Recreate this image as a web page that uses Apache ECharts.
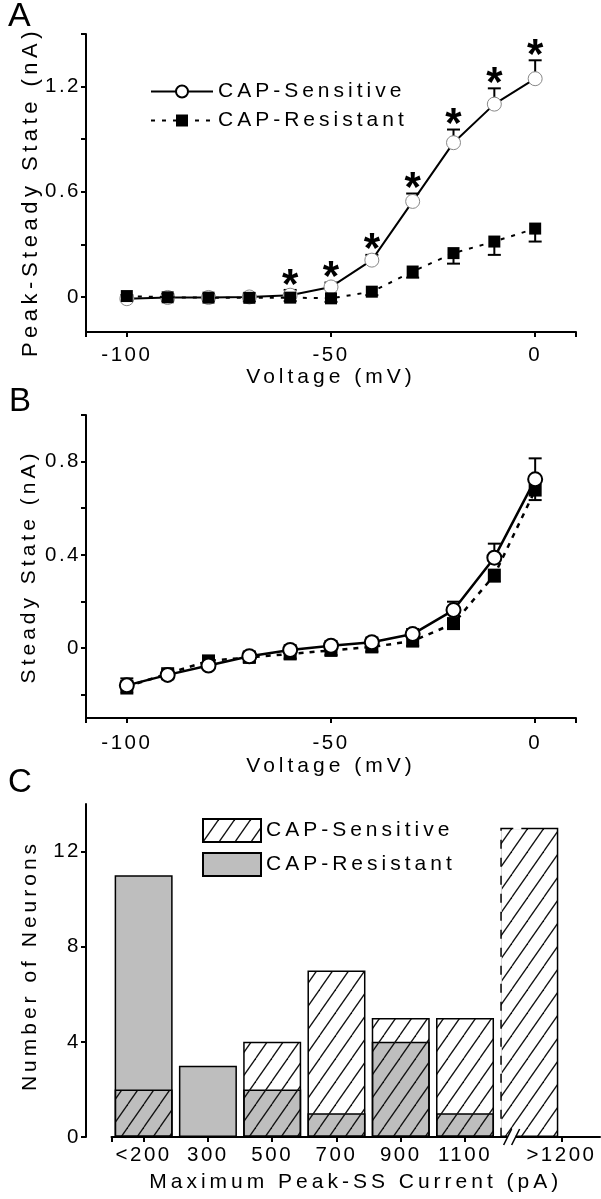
<!DOCTYPE html>
<html><head><meta charset="utf-8">
<script src="https://cdn.jsdelivr.net/npm/echarts@6/dist/echarts.min.js"></script>
<style>html,body{margin:0;padding:0;background:#fff}#chart{width:601px;height:1199px}</style>
</head><body><div id="chart"></div>
<script>
// ---------- data ----------
const voltages = [-100, -90, -80, -70, -60, -50, -40, -30, -20, -10, 0];
// Panel A: Peak - Steady State (nA)
const peakSens    = [-0.01, -0.003, -0.003, 0.0, 0.01, 0.057, 0.21, 0.545, 0.88, 1.10, 1.245];
const peakSensErr = [0.02, 0.02, 0.02, 0.02, 0.03, 0.025, 0.03, 0.045, 0.075, 0.09, 0.105];
const peakRes     = [0.005, -0.002, -0.004, -0.005, -0.004, -0.008, 0.03, 0.145, 0.25, 0.316, 0.39];
const peakResErr  = [0.02, 0.02, 0.02, 0.02, 0.02, 0.02, 0.02, 0.035, 0.06, 0.076, 0.074];
const peakSig     = [0, 0, 0, 0, 1, 1, 1, 1, 1, 1, 1];
// Panel B: Steady State (nA)
const ssSens    = [-0.16, -0.115, -0.075, -0.035, -0.008, 0.01, 0.025, 0.06, 0.163, 0.388, 0.724];
const ssSensErr = [0.03, 0.02, 0.02, 0.02, 0.02, 0.02, 0.02, 0.022, 0.036, 0.06, 0.09];
const ssRes     = [-0.165, -0.11, -0.055, -0.04, -0.025, -0.01, 0.005, 0.03, 0.105, 0.313, 0.678];
const ssResErr  = [0.03, 0.02, 0.02, 0.02, 0.02, 0.02, 0.02, 0.02, 0.02, 0.028, 0.043];
// Panel C: histogram
const binLabels  = ['<200', '300', '500', '700', '900', '1100', '>1200'];
const binCenters = [100, 300, 500, 700, 900, 1100, 1300];
const binLabelAt = [100, 300, 500, 700, 900, 1100, 1400];
const countSens  = [2, 0, 4, 7, 5, 5, 13];
const countRes   = [11, 3, 2, 1, 4, 1, 0];
const axisBreakAt = 1245;
// ticks
const voltTicks  = [-110, -100, -50, 0, 10];
const voltLabels = [-100, -50, 0];
const peakTicks  = [0, 0.3, 0.6, 0.9, 1.2, 1.5];
const peakLabels = [0, 0.6, 1.2];
const ssTicks    = [-0.2, 0, 0.2, 0.4, 0.6, 0.8, 1.0];
const ssLabels   = [0, 0.4, 0.8];
const countTicks = [0, 4, 8, 12];
const binTicks   = [0, 100, 300, 500, 700, 900, 1100, 1400];

// ---------- letter spacing (text in the reference is widely tracked) ----------
const SPACING = { '21': '4px', '22': '4.5px', '20.5': '2.5px' };
(function () {
  const proto = CanvasRenderingContext2D.prototype;
  const orig = proto.fillText;
  proto.fillText = function (t, x, y, w) {
    const m = /(\d+(?:\.\d+)?)px/.exec(this.font);
    const sp = m ? SPACING[m[1]] : null;
    if ('letterSpacing' in this) this.letterSpacing = sp || '0px';
    const r = (w === undefined) ? orig.call(this, t, x, y) : orig.call(this, t, x, y, w);
    if ('letterSpacing' in this) this.letterSpacing = '0px';
    return r;
  };
})();

const FONT = 'Liberation Sans';
const TICK = { fontSize: 20.5, color: '#000', fontFamily: FONT };
const NAME = { fontSize: 21, color: '#000', fontFamily: FONT };
const AXLINE = { show: true, onZero: false, lineStyle: { color: '#000', width: 2 } };
const BAR_W = 58;

function hatch() {
  const w = 16, h = 23;
  const c = document.createElement('canvas');
  c.width = w; c.height = h;
  const g = c.getContext('2d');
  g.strokeStyle = '#111'; g.lineWidth = 1.3;
  for (const x0 of [-w, 0, w]) {
    g.beginPath(); g.moveTo(x0, h); g.lineTo(x0 + w, 0); g.stroke();
  }
  return { image: c, repeat: 'repeat' };
}

function errBars(dir, cap) {
  return function (params, api) {
    const x = api.value(0), y = api.value(1), e = api.value(2);
    const p0 = api.coord([x, y]);
    const p1 = api.coord([x, y + dir * e]);
    return { type: 'group', children: [
      { type: 'line', shape: { x1: p0[0], y1: p0[1], x2: p1[0], y2: p1[1] }, style: { stroke: '#000', lineWidth: 2 } },
      { type: 'line', shape: { x1: p1[0] - cap, y1: p1[1], x2: p1[0] + cap, y2: p1[1] }, style: { stroke: '#000', lineWidth: 2 } }
    ]};
  };
}

function xVolt(grid, gap, lblMargin) {
  return {
    gridIndex: grid, type: 'value', min: -110, max: 10,
    axisLine: AXLINE,
    axisTick: { show: true, customValues: voltTicks, length: 5, lineStyle: { color: '#000', width: 2 } },
    axisLabel: Object.assign({ customValues: voltLabels, margin: lblMargin }, TICK),
    splitLine: { show: false },
    name: 'Voltage (mV)', nameLocation: 'middle', nameGap: gap, nameTextStyle: NAME
  };
}

const chart = echarts.init(document.getElementById('chart'), null, { renderer: 'canvas' });
const fmtName = n => n.split('|')[1];

chart.setOption({
  animation: false,
  backgroundColor: '#fff',
  textStyle: { fontFamily: FONT },
  grid: [
    { left: 86, top: 34, width: 490, height: 298 },
    { left: 86, top: 415, width: 490, height: 303 },
    { left: 111.5, top: 804, width: 488.5, height: 333 }
  ],
  xAxis: [
    xVolt(0, 34, 13),
    xVolt(1, 38, 15),
    {
      gridIndex: 2, type: 'value', min: 0, max: 1520,
      axisLine: AXLINE,
      axisTick: { show: true, customValues: binTicks, length: 5, lineStyle: { color: '#000', width: 2 } },
      axisLabel: Object.assign({ customValues: binLabelAt, margin: 8,
        formatter: v => binLabels[binLabelAt.indexOf(v)] }, TICK),
      splitLine: { show: false },
      name: 'Maximum Peak-SS Current (pA)', nameLocation: 'middle', nameGap: 35, nameTextStyle: NAME
    }
  ],
  yAxis: [
    {
      gridIndex: 0, type: 'value', min: -0.2, max: 1.5,
      axisLine: AXLINE,
      axisTick: { show: true, customValues: peakTicks, length: 5, lineStyle: { color: '#000', width: 2 } },
      axisLabel: Object.assign({ customValues: peakLabels, margin: 5 }, TICK),
      splitLine: { show: false },
      name: 'Peak-Steady State (nA)', nameLocation: 'middle', nameGap: 42,
      nameTextStyle: Object.assign({}, NAME, { fontSize: 22, padding: [0, 18, 0, 0] })
    },
    {
      gridIndex: 1, type: 'value', min: -0.3, max: 1.0,
      axisLine: AXLINE,
      axisTick: { show: true, customValues: ssTicks, length: 5, lineStyle: { color: '#000', width: 2 } },
      axisLabel: Object.assign({ customValues: ssLabels, margin: 5 }, TICK),
      splitLine: { show: false },
      name: 'Steady State (nA)', nameLocation: 'middle', nameGap: 46, nameTextStyle: NAME
    },
    {
      gridIndex: 2, type: 'value', min: 0, max: 14, offset: 25.5,
      axisLine: AXLINE,
      axisTick: { show: true, customValues: countTicks, length: 5, lineStyle: { color: '#000', width: 2 } },
      axisLabel: Object.assign({ customValues: countTicks, margin: 5 }, TICK),
      splitLine: { show: false },
      name: 'Number of Neurons', nameLocation: 'middle', nameGap: 45,
      nameTextStyle: Object.assign({ padding: [0, 0, 0, 10] }, NAME)
    }
  ],
  legend: [
    {
      left: 150, top: 81, orient: 'vertical', selectedMode: false, padding: 0,
      itemWidth: 62, itemHeight: 15, itemGap: 8,
      formatter: fmtName,
      textStyle: NAME,
      data: [
        { name: 'A|CAP-Sensitive', itemStyle: { color: '#fff', borderColor: '#000', borderWidth: 2 } },
        { name: 'A|CAP-Resistant' }
      ]
    },
    {
      left: 202, top: 818, orient: 'vertical', selectedMode: false, padding: 0,
      itemWidth: 58, itemHeight: 23, itemGap: 9, icon: 'rect',
      formatter: fmtName,
      textStyle: NAME,
      data: [{ name: 'C|CAP-Sensitive' }, { name: 'C|CAP-Resistant' }]
    }
  ],
  graphic: [
    { type: 'text', left: 8, top: 0, style: { text: 'A', font: '34px "Liberation Sans"', fill: '#000' } },
    { type: 'text', left: 9, top: 385, style: { text: 'B', font: '33px "Liberation Sans"', fill: '#000' } },
    { type: 'text', left: 8, top: 766, style: { text: 'C', font: '33px "Liberation Sans"', fill: '#000' } }
  ],
  series: [
    // ---- Panel A ----
    { type: 'custom', name: 'errA-s', xAxisIndex: 0, yAxisIndex: 0, z: 1,
      renderItem: errBars(1, 6.5), data: voltages.map((v, i) => [v, peakSens[i], peakSensErr[i]]) },
    { type: 'custom', name: 'errA-r', xAxisIndex: 0, yAxisIndex: 0, z: 1,
      renderItem: errBars(-1, 6.5), data: voltages.map((v, i) => [v, peakRes[i], peakResErr[i]]) },
    { type: 'line', name: 'A|CAP-Sensitive', xAxisIndex: 0, yAxisIndex: 0, z: 2,
      data: voltages.map((v, i) => [v, peakSens[i]]),
      symbol: 'circle', symbolSize: 14,
      itemStyle: { color: '#fff', borderColor: '#888', borderWidth: 1 },
      lineStyle: { color: '#000', width: 2 } },
    { type: 'line', name: 'A|CAP-Resistant', xAxisIndex: 0, yAxisIndex: 0, z: 3,
      data: voltages.map((v, i) => [v, peakRes[i]]),
      symbol: 'rect', symbolSize: 12,
      itemStyle: { color: '#000' },
      lineStyle: { color: '#000', width: 2, type: [4, 7] } },
    { type: 'custom', name: 'sigA', xAxisIndex: 0, yAxisIndex: 0, z: 4,
      renderItem: function (params, api) {
        const p = api.coord([api.value(0), api.value(1)]);
        return { type: 'text', style: { text: '*', x: p[0], y: p[1] - 4, fill: '#000',
          font: 'bold 42px "Liberation Sans"', textAlign: 'center', textVerticalAlign: 'middle' } };
      },
      data: voltages.map((v, i) => [v, peakSens[i] + peakSensErr[i]]).filter((d, i) => peakSig[i]) },
    // ---- Panel B ----
    { type: 'custom', name: 'errB-s', xAxisIndex: 1, yAxisIndex: 1, z: 1,
      renderItem: errBars(1, 6.5), data: voltages.map((v, i) => [v, ssSens[i], ssSensErr[i]]) },
    { type: 'custom', name: 'errB-r', xAxisIndex: 1, yAxisIndex: 1, z: 1,
      renderItem: errBars(-1, 6.5), data: voltages.map((v, i) => [v, ssRes[i], ssResErr[i]]) },
    { type: 'line', name: 'B|CAP-Resistant', xAxisIndex: 1, yAxisIndex: 1, z: 2,
      data: voltages.map((v, i) => [v, ssRes[i]]),
      symbol: 'rect', symbolSize: 13,
      itemStyle: { color: '#000' },
      lineStyle: { color: '#000', width: 2.5, type: [5, 6] } },
    { type: 'line', name: 'B|CAP-Sensitive', xAxisIndex: 1, yAxisIndex: 1, z: 3,
      data: voltages.map((v, i) => [v, ssSens[i]]),
      symbol: 'circle', symbolSize: 14,
      itemStyle: { color: '#fff', borderColor: '#000', borderWidth: 2 },
      lineStyle: { color: '#000', width: 2.5 } },
    // ---- Panel C ----
    { type: 'bar', name: 'C|CAP-Resistant', xAxisIndex: 2, yAxisIndex: 2,
      data: binCenters.map((x, i) => [x, countRes[i]]),
      barWidth: BAR_W, barGap: '-100%',
      itemStyle: { color: '#bebebe', borderColor: '#000', borderWidth: 1.5 } },
    { type: 'bar', name: 'C|CAP-Sensitive', xAxisIndex: 2, yAxisIndex: 2,
      data: binCenters.map((x, i) => [x, countSens[i]]),
      barWidth: BAR_W, barGap: '-100%',
      itemStyle: { color: hatch(), borderColor: '#000', borderWidth: 1.5 } },
    // axis break on the last (broken) bin
    { type: 'custom', name: 'breakC', xAxisIndex: 2, yAxisIndex: 2, z: 10, clip: false,
      renderItem: function (params, api) {
        const p = api.coord([api.value(0), 0]);
        const top = api.coord([api.value(1), api.value(2)]);
        const left = top[0] - BAR_W / 2;
        const x = p[0], y = p[1], s = 4, dx = 4, dy = 8;
        return { type: 'group', children: [
          { type: 'line', shape: { x1: left, y1: top[1] + 3, x2: left, y2: y - 3 },
            style: { stroke: '#fff', lineWidth: 3, lineDash: [9, 9] } },
          { type: 'rect', shape: { x: left + 13, y: top[1] - 2, width: 8, height: 4 }, style: { fill: '#fff' } },
          { type: 'rect', shape: { x: x - s, y: y - 3, width: 2 * s, height: 6 }, style: { fill: '#fff' } },
          { type: 'line', shape: { x1: x - s - dx, y1: y + dy, x2: x - s + dx, y2: y - dy }, style: { stroke: '#000', lineWidth: 1.5 } },
          { type: 'line', shape: { x1: x + s - dx, y1: y + dy, x2: x + s + dx, y2: y - dy }, style: { stroke: '#000', lineWidth: 1.5 } }
        ]};
      },
      data: [[axisBreakAt, binCenters[6], countSens[6]]] }
  ]
});
</script>
</body></html>
